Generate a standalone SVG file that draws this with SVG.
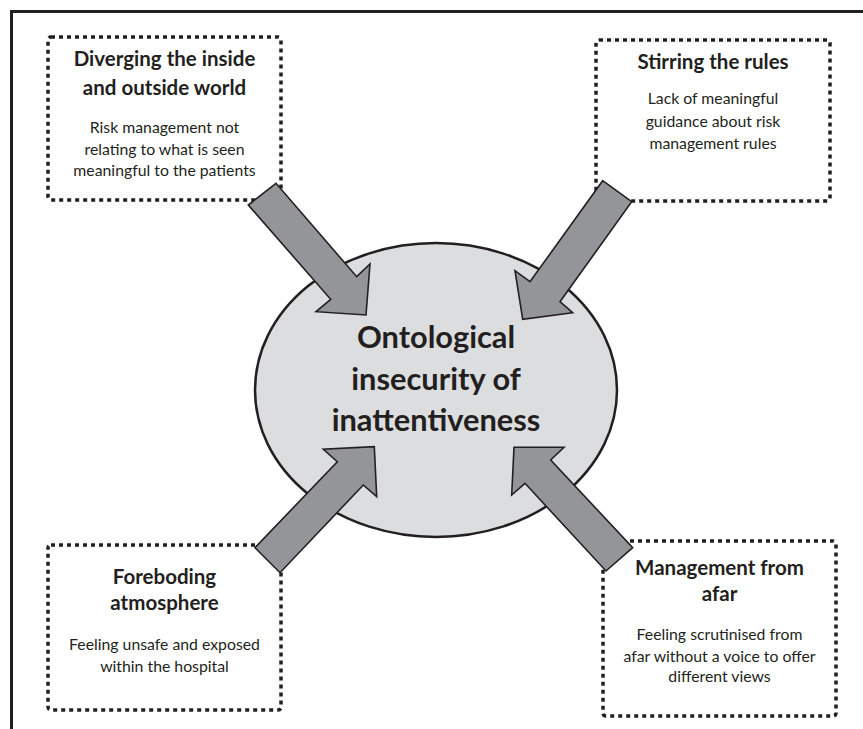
<svg xmlns="http://www.w3.org/2000/svg" width="863" height="729" viewBox="0 0 863 729">
<style>
.frame{fill:none;stroke:#231f20;stroke-width:3}
.box{fill:#fff;stroke:#231f20;stroke-width:3.5;stroke-dasharray:4 4}
.arrow{fill:#939598;stroke:#231f20;stroke-width:1.6;stroke-linejoin:miter}
.core{fill:#dcdddf;stroke:#231f20;stroke-width:2.5}
text{font-family:Lato,"Liberation Sans",sans-serif;fill:#231f20;text-anchor:middle}
.t{font-size:20.5px;font-weight:bold}
.b{font-size:15.8px}
.c{font-size:30.8px;font-weight:bold}
</style>
<rect class="frame" x="11.5" y="11.5" width="900" height="800"/>
<g id="core">
<ellipse class="core" cx="436" cy="390" rx="181" ry="147"/>
<text class="c" x="436" y="348">Ontological</text>
<text class="c" x="436" y="390">insecurity of</text>
<text class="c" x="436" y="431">inattentiveness</text>
</g>
<g id="box-diverging">
<rect class="box" x="48" y="37" width="233" height="163" rx="3"/>
<text class="t" x="164.5" y="65.5">Diverging the inside</text>
<text class="t" x="164.5" y="94.5">and outside world</text>
<text class="b" x="164.5" y="132.5">Risk management not</text>
<text class="b" x="164.5" y="155">relating to what is seen</text>
<text class="b" x="164.5" y="176">meaningful to the patients</text>
</g>
<g id="box-stirring">
<rect class="box" x="596" y="40" width="234" height="161" rx="3"/>
<text class="t" x="713" y="69">Stirring the rules</text>
<text class="b" x="713" y="104">Lack of meaningful</text>
<text class="b" x="713" y="126.5">guidance about risk</text>
<text class="b" x="713" y="149">management rules</text>
</g>
<g id="box-foreboding">
<rect class="box" x="48" y="545" width="233" height="165" rx="3"/>
<text class="t" x="164.5" y="583.5">Foreboding</text>
<text class="t" x="164.5" y="609.5">atmosphere</text>
<text class="b" x="164.5" y="650">Feeling unsafe and exposed</text>
<text class="b" x="164.5" y="672">within the hospital</text>
</g>
<g id="box-management">
<rect class="box" x="603" y="541" width="233" height="175" rx="3"/>
<text class="t" x="719.5" y="574.5">Management from</text>
<text class="t" x="719.5" y="601">afar</text>
<text class="b" x="719.5" y="640">Feeling scrutinised from</text>
<text class="b" x="719.5" y="661.5">afar without a voice to offer</text>
<text class="b" x="719.5" y="682">different views</text>
</g>
<g id="connectors">
<polygon class="arrow" points="248.3,205 276,183.3 356.7,276.7 370,264 366,315 316,311.7 330.7,299.3"/>
<polygon class="arrow" points="602.7,180.7 631.7,201.7 560,301.7 572.7,312.7 522.7,319.3 515,270.7 530,281.7"/>
<polygon class="arrow" points="255,547.7 280,572.7 363.3,485 376.7,496.7 374.3,446.7 323.3,449.3 337.3,461.7"/>
<polygon class="arrow" points="632.7,547.7 606,571 525,483.3 511.7,495 514,447.3 564,447.3 550.7,460"/>
</g>
</svg>
